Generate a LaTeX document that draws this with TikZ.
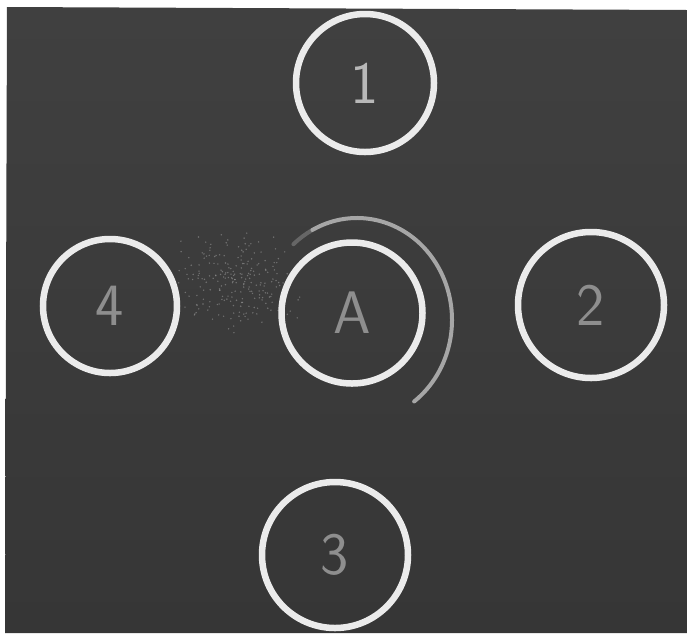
\documentclass[tikz,border=0pt]{standalone}
\usepackage{fontspec}
\definecolor{board}{HTML}{363636}
\definecolor{boardtop}{HTML}{404040}
\definecolor{chalk}{HTML}{EBEBEB}
\definecolor{chalkgray}{HTML}{8E8E8E}
\begin{document}
\begin{tikzpicture}[
  x=1pt, y=-1pt,
  ring/.style={draw=chalk, line width=6.5pt, circle, inner sep=0pt, text=chalkgray,
    font=\fontsize{60}{60}\selectfont\sffamily},
  smear/.style={draw=chalk!62!board, line width=4pt, line cap=round},
  dust/.style={fill=white, opacity=0.28}
]
\useasboundingbox (0,0) rectangle (687,633);
\fill[white] (0,0) rectangle (687,633);
\shade[top color=boardtop, bottom color=board] (7,7) -- (687,10) -- (687,633) -- (5,633) -- cycle;

% chalk dust between 4 and A
\pgfmathsetseed{11}
\foreach \i in {1,...,230} {
  \pgfmathsetmacro\px{236+70*(rand+rand)/2}
  \pgfmathsetmacro\py{282+55*(rand+rand)/2}
  \fill[dust] (\px,\py) circle (0.8);
}

\node[ring, minimum size=138pt, text=chalk!72!board] (n1) at (365,83) {1};
\node[ring, minimum size=134pt] (n4) at (110,306) {4};
\node[ring, minimum size=141pt] (a) at (352,313) {A};
\node[ring, minimum size=146pt] (n2) at (591,305) {2};
\node[ring, minimum size=146pt] (n3) at (335,555) {3};

% rubbed arc round A
\draw[smear, opacity=0.4] ([shift={(5,7)}]a.center) ++(-132:95 and 102)
  arc[start angle=-132, end angle=-118, x radius=95, y radius=102];
\draw[smear] ([shift={(5,7)}]a.center) ++(-118:95 and 102)
  arc[start angle=-118, end angle=53, x radius=95, y radius=102];
\end{tikzpicture}
\end{document}
